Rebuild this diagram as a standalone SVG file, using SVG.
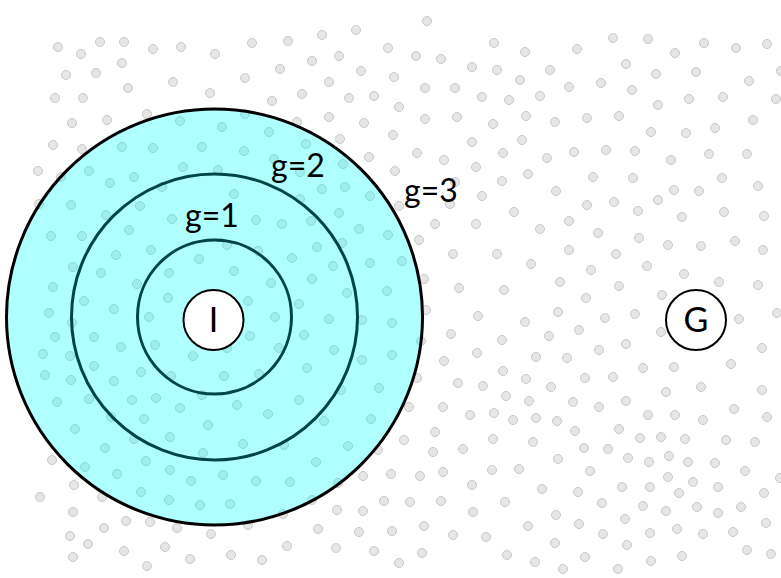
<svg xmlns="http://www.w3.org/2000/svg" width="781" height="578" viewBox="0 0 781 578">
<style>
.d circle{fill:#e6e6e6;stroke:#c8c8c8;stroke-width:1}
.ring{fill:none;stroke:#004444;stroke-width:3}
.node circle{fill:#fff;stroke:#000;stroke-width:2}
text{font-family:Lato,"Open Sans",sans-serif;fill:#000}
.lbl{font-size:32px;text-anchor:middle}
.nl{font-size:34px;text-anchor:middle}
</style>
<rect width="781" height="578" fill="#fff"/>
<g id="dots" class="d">
<circle cx="58" cy="47" r="4.5"/><circle cx="81" cy="54" r="4.5"/><circle cx="100" cy="42" r="4.5"/><circle cx="124" cy="42" r="4.5"/><circle cx="153" cy="49" r="4.5"/><circle cx="181" cy="47" r="4.5"/><circle cx="66" cy="75" r="4.5"/><circle cx="96" cy="73" r="4.5"/><circle cx="122" cy="63" r="4.5"/><circle cx="173" cy="82" r="4.5"/><circle cx="128" cy="88" r="4.5"/><circle cx="55" cy="98" r="4.5"/><circle cx="83" cy="98" r="4.5"/><circle cx="72" cy="123" r="4.5"/><circle cx="107" cy="120" r="4.5"/><circle cx="147" cy="114" r="4.5"/><circle cx="180" cy="121" r="4.5"/><circle cx="53" cy="145" r="4.5"/><circle cx="82" cy="149" r="4.5"/><circle cx="122" cy="147" r="4.5"/><circle cx="153" cy="148" r="4.5"/><circle cx="38" cy="171" r="4.5"/><circle cx="61" cy="177" r="4.5"/><circle cx="89" cy="171" r="4.5"/><circle cx="110" cy="183" r="4.5"/><circle cx="134" cy="177" r="4.5"/><circle cx="183" cy="167" r="4.5"/><circle cx="162" cy="187" r="4.5"/>
<circle cx="215" cy="54" r="4.5"/><circle cx="252" cy="43" r="4.5"/><circle cx="288" cy="41" r="4.5"/><circle cx="322" cy="35" r="4.5"/><circle cx="356" cy="30" r="4.5"/><circle cx="388" cy="48" r="4.5"/><circle cx="312" cy="61" r="4.5"/><circle cx="339" cy="56" r="4.5"/><circle cx="280" cy="69" r="4.5"/><circle cx="245" cy="78" r="4.5"/><circle cx="361" cy="71" r="4.5"/><circle cx="329" cy="82" r="4.5"/><circle cx="210" cy="93" r="4.5"/><circle cx="272" cy="101" r="4.5"/><circle cx="302" cy="94" r="4.5"/><circle cx="349" cy="98" r="4.5"/><circle cx="374" cy="96" r="4.5"/><circle cx="245" cy="114" r="4.5"/><circle cx="222" cy="127" r="4.5"/><circle cx="269" cy="132" r="4.5"/><circle cx="297" cy="122" r="4.5"/><circle cx="329" cy="117" r="4.5"/><circle cx="364" cy="123" r="4.5"/><circle cx="202" cy="147" r="4.5"/><circle cx="244" cy="151" r="4.5"/><circle cx="306" cy="144" r="4.5"/><circle cx="340" cy="139" r="4.5"/><circle cx="274" cy="159" r="4.5"/><circle cx="218" cy="170" r="4.5"/><circle cx="300" cy="172" r="4.5"/><circle cx="343" cy="164" r="4.5"/><circle cx="369" cy="157" r="4.5"/><circle cx="322" cy="189" r="4.5"/><circle cx="345" cy="187" r="4.5"/><circle cx="234" cy="194" r="4.5"/>
<circle cx="427" cy="21" r="4.5"/><circle cx="494" cy="43" r="4.5"/><circle cx="525" cy="52" r="4.5"/><circle cx="577" cy="49" r="4.5"/><circle cx="416" cy="56" r="4.5"/><circle cx="441" cy="59" r="4.5"/><circle cx="472" cy="67" r="4.5"/><circle cx="497" cy="70" r="4.5"/><circle cx="520" cy="80" r="4.5"/><circle cx="550" cy="70" r="4.5"/><circle cx="394" cy="77" r="4.5"/><circle cx="425" cy="88" r="4.5"/><circle cx="455" cy="88" r="4.5"/><circle cx="482" cy="97" r="4.5"/><circle cx="509" cy="100" r="4.5"/><circle cx="540" cy="96" r="4.5"/><circle cx="569" cy="87" r="4.5"/><circle cx="399" cy="107" r="4.5"/><circle cx="425" cy="119" r="4.5"/><circle cx="457" cy="117" r="4.5"/><circle cx="493" cy="124" r="4.5"/><circle cx="526" cy="116" r="4.5"/><circle cx="555" cy="122" r="4.5"/><circle cx="587" cy="118" r="4.5"/><circle cx="393" cy="135" r="4.5"/><circle cx="472" cy="142" r="4.5"/><circle cx="522" cy="140" r="4.5"/><circle cx="417" cy="153" r="4.5"/><circle cx="444" cy="160" r="4.5"/><circle cx="503" cy="153" r="4.5"/><circle cx="547" cy="158" r="4.5"/><circle cx="574" cy="152" r="4.5"/><circle cx="395" cy="171" r="4.5"/><circle cx="476" cy="167" r="4.5"/><circle cx="528" cy="174" r="4.5"/><circle cx="502" cy="181" r="4.5"/><circle cx="455" cy="182" r="4.5"/><circle cx="556" cy="191" r="4.5"/><circle cx="482" cy="196" r="4.5"/>
<circle cx="613" cy="38" r="4.5"/><circle cx="648" cy="39" r="4.5"/><circle cx="704" cy="43" r="4.5"/><circle cx="736" cy="48" r="4.5"/><circle cx="767" cy="44" r="4.5"/><circle cx="675" cy="53" r="4.5"/><circle cx="626" cy="64" r="4.5"/><circle cx="656" cy="74" r="4.5"/><circle cx="696" cy="72" r="4.5"/><circle cx="749" cy="81" r="4.5"/><circle cx="781" cy="71" r="4.5"/><circle cx="601" cy="83" r="4.5"/><circle cx="632" cy="90" r="4.5"/><circle cx="658" cy="105" r="4.5"/><circle cx="689" cy="99" r="4.5"/><circle cx="723" cy="97" r="4.5"/><circle cx="776" cy="99" r="4.5"/><circle cx="619" cy="116" r="4.5"/><circle cx="651" cy="132" r="4.5"/><circle cx="686" cy="133" r="4.5"/><circle cx="715" cy="128" r="4.5"/><circle cx="753" cy="120" r="4.5"/><circle cx="606" cy="150" r="4.5"/><circle cx="635" cy="151" r="4.5"/><circle cx="671" cy="160" r="4.5"/><circle cx="709" cy="154" r="4.5"/><circle cx="747" cy="154" r="4.5"/><circle cx="593" cy="177" r="4.5"/><circle cx="633" cy="178" r="4.5"/><circle cx="674" cy="190" r="4.5"/><circle cx="699" cy="191" r="4.5"/><circle cx="722" cy="178" r="4.5"/><circle cx="758" cy="186" r="4.5"/>
<circle cx="39" cy="204" r="4.5"/><circle cx="71" cy="205" r="4.5"/><circle cx="106" cy="215" r="4.5"/><circle cx="140" cy="206" r="4.5"/><circle cx="172" cy="219" r="4.5"/><circle cx="51" cy="236" r="4.5"/><circle cx="82" cy="236" r="4.5"/><circle cx="129" cy="230" r="4.5"/><circle cx="116" cy="255" r="4.5"/><circle cx="151" cy="250" r="4.5"/><circle cx="73" cy="267" r="4.5"/><circle cx="101" cy="273" r="4.5"/><circle cx="169" cy="273" r="4.5"/><circle cx="53" cy="287" r="4.5"/><circle cx="137" cy="284" r="4.5"/><circle cx="84" cy="301" r="4.5"/><circle cx="168" cy="298" r="4.5"/><circle cx="49" cy="313" r="4.5"/><circle cx="114" cy="309" r="4.5"/><circle cx="72" cy="323" r="4.5"/><circle cx="149" cy="317" r="4.5"/><circle cx="55" cy="337" r="4.5"/><circle cx="94" cy="337" r="4.5"/><circle cx="121" cy="347" r="4.5"/><circle cx="155" cy="345" r="4.5"/><circle cx="43" cy="354" r="4.5"/><circle cx="70" cy="356" r="4.5"/><circle cx="193" cy="356" r="4.5"/><circle cx="94" cy="366" r="4.5"/><circle cx="45" cy="375" r="4.5"/><circle cx="141" cy="372" r="4.5"/><circle cx="171" cy="376" r="4.5"/><circle cx="71" cy="380" r="4.5"/><circle cx="114" cy="381" r="4.5"/>
<circle cx="256" cy="220" r="4.5"/><circle cx="282" cy="224" r="4.5"/><circle cx="311" cy="221" r="4.5"/><circle cx="339" cy="213" r="4.5"/><circle cx="370" cy="196" r="4.5"/><circle cx="359" cy="229" r="4.5"/><circle cx="388" cy="235" r="4.5"/><circle cx="300" cy="199" r="4.5"/><circle cx="227" cy="245" r="4.5"/><circle cx="258" cy="251" r="4.5"/><circle cx="199" cy="259" r="4.5"/><circle cx="292" cy="258" r="4.5"/><circle cx="317" cy="247" r="4.5"/><circle cx="342" cy="243" r="4.5"/><circle cx="333" cy="266" r="4.5"/><circle cx="370" cy="263" r="4.5"/><circle cx="234" cy="271" r="4.5"/><circle cx="271" cy="283" r="4.5"/><circle cx="312" cy="279" r="4.5"/><circle cx="347" cy="293" r="4.5"/><circle cx="387" cy="291" r="4.5"/><circle cx="248" cy="301" r="4.5"/><circle cx="299" cy="304" r="4.5"/><circle cx="275" cy="317" r="4.5"/><circle cx="329" cy="319" r="4.5"/><circle cx="362" cy="320" r="4.5"/><circle cx="250" cy="336" r="4.5"/><circle cx="304" cy="335" r="4.5"/><circle cx="227" cy="348" r="4.5"/><circle cx="279" cy="348" r="4.5"/><circle cx="334" cy="350" r="4.5"/><circle cx="362" cy="360" r="4.5"/><circle cx="224" cy="376" r="4.5"/><circle cx="259" cy="374" r="4.5"/><circle cx="307" cy="368" r="4.5"/>
<circle cx="399" cy="206" r="4.5"/><circle cx="450" cy="204" r="4.5"/><circle cx="587" cy="205" r="4.5"/><circle cx="514" cy="212" r="4.5"/><circle cx="435" cy="224" r="4.5"/><circle cx="476" cy="224" r="4.5"/><circle cx="540" cy="229" r="4.5"/><circle cx="569" cy="221" r="4.5"/><circle cx="419" cy="240" r="4.5"/><circle cx="453" cy="254" r="4.5"/><circle cx="497" cy="254" r="4.5"/><circle cx="531" cy="264" r="4.5"/><circle cx="569" cy="250" r="4.5"/><circle cx="402" cy="261" r="4.5"/><circle cx="424" cy="279" r="4.5"/><circle cx="459" cy="288" r="4.5"/><circle cx="504" cy="290" r="4.5"/><circle cx="560" cy="282" r="4.5"/><circle cx="586" cy="298" r="4.5"/><circle cx="426" cy="310" r="4.5"/><circle cx="478" cy="316" r="4.5"/><circle cx="525" cy="322" r="4.5"/><circle cx="558" cy="312" r="4.5"/><circle cx="392" cy="323" r="4.5"/><circle cx="451" cy="334" r="4.5"/><circle cx="502" cy="340" r="4.5"/><circle cx="549" cy="336" r="4.5"/><circle cx="579" cy="330" r="4.5"/><circle cx="421" cy="341" r="4.5"/><circle cx="392" cy="355" r="4.5"/><circle cx="477" cy="353" r="4.5"/><circle cx="536" cy="357" r="4.5"/><circle cx="567" cy="358" r="4.5"/><circle cx="444" cy="361" r="4.5"/><circle cx="503" cy="371" r="4.5"/><circle cx="526" cy="379" r="4.5"/><circle cx="585" cy="378" r="4.5"/><circle cx="417" cy="378" r="4.5"/><circle cx="458" cy="383" r="4.5"/><circle cx="483" cy="386" r="4.5"/><circle cx="551" cy="387" r="4.5"/>
<circle cx="614" cy="202" r="4.5"/><circle cx="638" cy="211" r="4.5"/><circle cx="658" cy="200" r="4.5"/><circle cx="682" cy="217" r="4.5"/><circle cx="724" cy="212" r="4.5"/><circle cx="764" cy="216" r="4.5"/><circle cx="598" cy="233" r="4.5"/><circle cx="639" cy="238" r="4.5"/><circle cx="668" cy="245" r="4.5"/><circle cx="701" cy="246" r="4.5"/><circle cx="735" cy="241" r="4.5"/><circle cx="763" cy="250" r="4.5"/><circle cx="616" cy="254" r="4.5"/><circle cx="647" cy="266" r="4.5"/><circle cx="591" cy="270" r="4.5"/><circle cx="684" cy="274" r="4.5"/><circle cx="719" cy="282" r="4.5"/><circle cx="758" cy="285" r="4.5"/><circle cx="619" cy="286" r="4.5"/><circle cx="662" cy="295" r="4.5"/><circle cx="777" cy="313" r="4.5"/><circle cx="605" cy="318" r="4.5"/><circle cx="635" cy="314" r="4.5"/><circle cx="739" cy="319" r="4.5"/><circle cx="661" cy="332" r="4.5"/><circle cx="626" cy="344" r="4.5"/><circle cx="599" cy="350" r="4.5"/><circle cx="762" cy="348" r="4.5"/><circle cx="643" cy="368" r="4.5"/><circle cx="674" cy="367" r="4.5"/><circle cx="731" cy="364" r="4.5"/><circle cx="613" cy="377" r="4.5"/><circle cx="701" cy="387" r="4.5"/>
<circle cx="57" cy="402" r="4.5"/><circle cx="89" cy="399" r="4.5"/><circle cx="132" cy="400" r="4.5"/><circle cx="156" cy="398" r="4.5"/><circle cx="180" cy="408" r="4.5"/><circle cx="111" cy="417" r="4.5"/><circle cx="144" cy="419" r="4.5"/><circle cx="75" cy="429" r="4.5"/><circle cx="134" cy="439" r="4.5"/><circle cx="170" cy="437" r="4.5"/><circle cx="105" cy="448" r="4.5"/><circle cx="52" cy="460" r="4.5"/><circle cx="85" cy="467" r="4.5"/><circle cx="146" cy="461" r="4.5"/><circle cx="117" cy="474" r="4.5"/><circle cx="170" cy="470" r="4.5"/><circle cx="191" cy="481" r="4.5"/><circle cx="74" cy="485" r="4.5"/><circle cx="40" cy="497" r="4.5"/><circle cx="102" cy="497" r="4.5"/><circle cx="141" cy="492" r="4.5"/><circle cx="169" cy="500" r="4.5"/><circle cx="73" cy="512" r="4.5"/><circle cx="126" cy="521" r="4.5"/><circle cx="150" cy="522" r="4.5"/><circle cx="177" cy="528" r="4.5"/><circle cx="104" cy="528" r="4.5"/><circle cx="70" cy="536" r="4.5"/><circle cx="88" cy="544" r="4.5"/><circle cx="124" cy="551" r="4.5"/><circle cx="165" cy="547" r="4.5"/><circle cx="73" cy="557" r="4.5"/><circle cx="147" cy="566" r="4.5"/><circle cx="190" cy="559" r="4.5"/>
<circle cx="202" cy="395" r="4.5"/><circle cx="237" cy="405" r="4.5"/><circle cx="268" cy="414" r="4.5"/><circle cx="299" cy="400" r="4.5"/><circle cx="341" cy="390" r="4.5"/><circle cx="379" cy="388" r="4.5"/><circle cx="208" cy="425" r="4.5"/><circle cx="243" cy="444" r="4.5"/><circle cx="284" cy="445" r="4.5"/><circle cx="324" cy="421" r="4.5"/><circle cx="371" cy="419" r="4.5"/><circle cx="203" cy="453" r="4.5"/><circle cx="348" cy="446" r="4.5"/><circle cx="378" cy="450" r="4.5"/><circle cx="316" cy="462" r="4.5"/><circle cx="223" cy="475" r="4.5"/><circle cx="256" cy="481" r="4.5"/><circle cx="290" cy="482" r="4.5"/><circle cx="338" cy="483" r="4.5"/><circle cx="363" cy="476" r="4.5"/><circle cx="391" cy="474" r="4.5"/><circle cx="200" cy="505" r="4.5"/><circle cx="230" cy="504" r="4.5"/><circle cx="312" cy="500" r="4.5"/><circle cx="283" cy="514" r="4.5"/><circle cx="337" cy="510" r="4.5"/><circle cx="363" cy="511" r="4.5"/><circle cx="384" cy="501" r="4.5"/><circle cx="248" cy="525" r="4.5"/><circle cx="211" cy="534" r="4.5"/><circle cx="318" cy="529" r="4.5"/><circle cx="359" cy="532" r="4.5"/><circle cx="392" cy="531" r="4.5"/><circle cx="287" cy="546" r="4.5"/><circle cx="336" cy="548" r="4.5"/><circle cx="374" cy="551" r="4.5"/><circle cx="231" cy="555" r="4.5"/><circle cx="262" cy="560" r="4.5"/>
<circle cx="506" cy="396" r="4.5"/><circle cx="529" cy="401" r="4.5"/><circle cx="573" cy="402" r="4.5"/><circle cx="409" cy="407" r="4.5"/><circle cx="443" cy="407" r="4.5"/><circle cx="470" cy="415" r="4.5"/><circle cx="494" cy="413" r="4.5"/><circle cx="513" cy="420" r="4.5"/><circle cx="536" cy="418" r="4.5"/><circle cx="557" cy="421" r="4.5"/><circle cx="435" cy="432" r="4.5"/><circle cx="575" cy="431" r="4.5"/><circle cx="404" cy="440" r="4.5"/><circle cx="493" cy="439" r="4.5"/><circle cx="533" cy="442" r="4.5"/><circle cx="433" cy="452" r="4.5"/><circle cx="463" cy="449" r="4.5"/><circle cx="584" cy="448" r="4.5"/><circle cx="558" cy="459" r="4.5"/><circle cx="420" cy="476" r="4.5"/><circle cx="443" cy="472" r="4.5"/><circle cx="492" cy="470" r="4.5"/><circle cx="519" cy="469" r="4.5"/><circle cx="472" cy="485" r="4.5"/><circle cx="542" cy="489" r="4.5"/><circle cx="578" cy="492" r="4.5"/><circle cx="410" cy="502" r="4.5"/><circle cx="441" cy="501" r="4.5"/><circle cx="505" cy="502" r="4.5"/><circle cx="473" cy="512" r="4.5"/><circle cx="556" cy="515" r="4.5"/><circle cx="424" cy="526" r="4.5"/><circle cx="453" cy="535" r="4.5"/><circle cx="486" cy="537" r="4.5"/><circle cx="528" cy="526" r="4.5"/><circle cx="579" cy="524" r="4.5"/><circle cx="555" cy="543" r="4.5"/><circle cx="422" cy="553" r="4.5"/><circle cx="507" cy="555" r="4.5"/><circle cx="399" cy="563" r="4.5"/><circle cx="535" cy="562" r="4.5"/><circle cx="563" cy="569" r="4.5"/><circle cx="585" cy="557" r="4.5"/>
<circle cx="666" cy="392" r="4.5"/><circle cx="762" cy="390" r="4.5"/><circle cx="599" cy="407" r="4.5"/><circle cx="626" cy="401" r="4.5"/><circle cx="648" cy="415" r="4.5"/><circle cx="675" cy="415" r="4.5"/><circle cx="703" cy="420" r="4.5"/><circle cx="734" cy="409" r="4.5"/><circle cx="767" cy="417" r="4.5"/><circle cx="619" cy="429" r="4.5"/><circle cx="640" cy="438" r="4.5"/><circle cx="661" cy="437" r="4.5"/><circle cx="685" cy="439" r="4.5"/><circle cx="726" cy="440" r="4.5"/><circle cx="755" cy="442" r="4.5"/><circle cx="608" cy="449" r="4.5"/><circle cx="628" cy="458" r="4.5"/><circle cx="649" cy="462" r="4.5"/><circle cx="669" cy="456" r="4.5"/><circle cx="688" cy="462" r="4.5"/><circle cx="715" cy="463" r="4.5"/><circle cx="745" cy="471" r="4.5"/><circle cx="590" cy="471" r="4.5"/><circle cx="780" cy="478" r="4.5"/><circle cx="668" cy="477" r="4.5"/><circle cx="693" cy="482" r="4.5"/><circle cx="622" cy="487" r="4.5"/><circle cx="650" cy="487" r="4.5"/><circle cx="679" cy="493" r="4.5"/><circle cx="718" cy="487" r="4.5"/><circle cx="764" cy="493" r="4.5"/><circle cx="602" cy="503" r="4.5"/><circle cx="643" cy="506" r="4.5"/><circle cx="666" cy="511" r="4.5"/><circle cx="697" cy="507" r="4.5"/><circle cx="718" cy="513" r="4.5"/><circle cx="741" cy="507" r="4.5"/><circle cx="625" cy="519" r="4.5"/><circle cx="766" cy="523" r="4.5"/><circle cx="603" cy="534" r="4.5"/><circle cx="650" cy="533" r="4.5"/><circle cx="677" cy="529" r="4.5"/><circle cx="703" cy="534" r="4.5"/><circle cx="733" cy="532" r="4.5"/><circle cx="627" cy="545" r="4.5"/><circle cx="747" cy="550" r="4.5"/><circle cx="771" cy="554" r="4.5"/><circle cx="651" cy="561" r="4.5"/><circle cx="682" cy="556" r="4.5"/><circle cx="618" cy="569" r="4.5"/>
</g>
<g id="region">
<circle cx="214.5" cy="317" r="208" fill="#00ffff" fill-opacity="0.31" stroke="#000" stroke-width="3"/>
<circle class="ring" cx="214.5" cy="317" r="143"/>
<circle class="ring" cx="214.5" cy="317" r="77"/>
</g>
<g id="labels">
<text class="lbl" x="212" y="227">g=1</text>
<text class="lbl" x="298" y="177">g=2</text>
<text class="lbl" x="431" y="202">g=3</text>
</g>
<g id="connectors"/>
<g id="node-I" class="node">
<circle cx="213.5" cy="320" r="30"/>
<text class="nl" x="213.5" y="332">I</text>
</g>
<g id="node-G" class="node">
<circle cx="696" cy="320" r="30"/>
<text class="nl" x="696" y="332">G</text>
</g>
</svg>
